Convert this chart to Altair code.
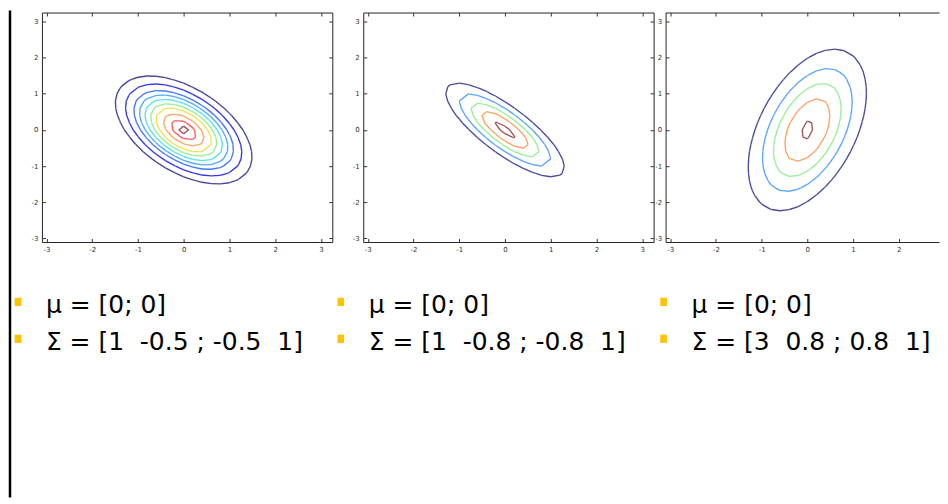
import numpy as np
import pandas as pd
import altair as alt

# ---- data ----
MEANS = [[0, 0], [0, 0], [0, 0]]
# covariance as drawn (horizontal variance, vertical variance)
COVS = [
    [[1.0, -0.5], [-0.5, 1.0]],
    [[1.0, -0.8], [-0.8, 1.0]],
    [[1.0, 0.8], [0.8, 3.0]],
]
# contour levels as a fraction of the peak density
LEVELS = [
    [0.329, 0.446, 0.552, 0.625, 0.697, 0.766, 0.830, 0.904, 0.959, 0.986],
    [0.430, 0.607, 0.752, 0.869, 0.972],
    [0.435, 0.618, 0.758, 0.882, 0.986],
]
COLORS = [
    ["#46469a", "#3535f0", "#4477ff", "#52aaff", "#55e2ec",
     "#95ee95", "#f2e24e", "#ffa664", "#ff5656", "#a04c4c"],
    ["#4a4a9a", "#5aa5ff", "#98ef98", "#ffa262", "#a05454"],
    ["#4a4a9a", "#5aa5ff", "#98ef98", "#ffa262", "#a05454"],
]
MU_LABELS = ["\u03bc = [0; 0]", "\u03bc = [0; 0]", "\u03bc = [0; 0]"]
SIGMA_LABELS = [
    "\u03a3 = [1\u00a0\u00a0-0.5 ; -0.5\u00a0\u00a01]",
    "\u03a3 = [1\u00a0\u00a0-0.8 ; -0.8\u00a0\u00a01]",
    "\u03a3 = [3\u00a0\u00a00.8 ; 0.8\u00a0\u00a01]",
]
TICKS = [-3, -2, -1, 0, 1, 2, 3]
DOMAIN = [-3.1, 3.25]
DOMAIN_CLIPPED = [-3.1, 2.88]   # third panel runs off the right edge of the slide
GRID_STEP = 0.2

W, H = 291, 230
W3 = 274


def contour_segments(mu, cov, levels):
    inv = np.linalg.inv(np.array(cov, dtype=float))

    def dens(x, y):
        dx, dy = x - mu[0], y - mu[1]
        q = inv[0, 0] * dx ** 2 + 2 * inv[0, 1] * dx * dy + inv[1, 1] * dy ** 2
        return np.exp(-0.5 * q)

    g = np.arange(-16, 17) * GRID_STEP
    X, Y = np.meshgrid(g, g)
    Z = dens(X, Y)
    rows = []
    n = len(g)
    for li, L in enumerate(levels):
        for i in range(n - 1):
            for j in range(n - 1):
                c = [(g[j], g[i], Z[i, j]), (g[j + 1], g[i], Z[i, j + 1]),
                     (g[j + 1], g[i + 1], Z[i + 1, j + 1]), (g[j], g[i + 1], Z[i + 1, j])]
                pts = {}
                for a in range(4):
                    x0, y0, z0 = c[a]
                    x1, y1, z1 = c[(a + 1) % 4]
                    if (z0 >= L) != (z1 >= L):
                        t = (L - z0) / (z1 - z0)
                        pts[a] = (x0 + t * (x1 - x0), y0 + t * (y1 - y0))
                pairs = []
                if len(pts) == 2:
                    e = sorted(pts)
                    pairs.append((e[0], e[1]))
                elif len(pts) == 4:
                    zc = dens((g[j] + g[j + 1]) / 2, (g[i] + g[i + 1]) / 2)
                    center_high = zc >= L
                    for a in range(4):
                        if (c[a][2] >= L) != center_high:
                            pairs.append(((a - 1) % 4, a))
                for ea, eb in pairs:
                    rows.append(dict(x=pts[ea][0], y=pts[ea][1],
                                     x2=pts[eb][0], y2=pts[eb][1], lvl=li))
    return pd.DataFrame(rows)


def make_axis(orient, labels):
    kw = dict(orient=orient, values=TICKS, title=None, domain=False, grid=False,
              offset=-3.5, tickSize=3.5, tickColor="#333333", tickWidth=1)
    if labels:
        kw.update(labels=True, labelFontSize=7, labelColor="#333333",
                  labelFont="DejaVu Sans", labelExpr="'' + datum.value",
                  labelPadding=3 if orient in ("bottom", "top") else 4)
    else:
        kw.update(labels=False)
    return alt.Axis(**kw)


def panel_layers(k, xdomain, right_axis=True):
    df = contour_segments(MEANS[k], COVS[k], LEVELS[k])
    sx = alt.Scale(domain=xdomain, nice=False, zero=False)
    sy = alt.Scale(domain=DOMAIN, nice=False, zero=False)
    base = alt.Chart(df)
    lines = base.mark_rule(strokeWidth=1.35).encode(
        x=alt.X("x:Q", scale=sx, axis=make_axis("bottom", True)),
        y=alt.Y("y:Q", scale=sy, axis=make_axis("left", True)),
        x2="x2:Q",
        y2="y2:Q",
        color=alt.Color("lvl:O", scale=alt.Scale(domain=list(range(len(LEVELS[k]))),
                                                 range=COLORS[k]), legend=None),
    )
    enc = dict(x=alt.X("x:Q", scale=sx, axis=make_axis("top", False)))
    if right_axis:
        enc["y"] = alt.Y("y:Q", scale=sy, axis=make_axis("right", False))
    else:
        enc["y"] = alt.Y("y:Q", scale=sy, axis=None)
    frame = base.mark_rule(opacity=0).encode(**enc)
    return [lines, frame]


# text block (bullets + labels) under the panels
txt = pd.DataFrame({
    "col": [0, 1, 2, 0, 1, 2],
    "row": [0, 0, 0, 1, 1, 1],
    "label": MU_LABELS + SIGMA_LABELS,
})
tx = alt.Scale(domain=[0, 2], range=[4, 651])
ty = alt.Scale(domain=[0, 1], range=[293, 330])
text_layer = alt.Chart(txt).mark_text(
    align="left", baseline="middle", fontSize=25, font="DejaVu Sans", color="#000000"
).encode(
    x=alt.X("col:Q", scale=tx, axis=None),
    y=alt.Y("row:Q", scale=ty, axis=None),
    text="label:N",
)
bullet_layer = alt.Chart(txt).mark_point(
    shape="M -0.8 -1 L 0.8 -1 L 0.8 1 L -0.8 1 Z", filled=True, size=69,
    color="#FFC400", opacity=1, xOffset=-28, yOffset=-3
).encode(
    x=alt.X("col:Q", scale=tx, axis=None),
    y=alt.Y("row:Q", scale=ty, axis=None),
)
edge_line = alt.Chart(pd.DataFrame({"a": [0]})).mark_rule(
    color="#000000", strokeWidth=2.5
).encode(x=alt.value(-32), y=alt.value(-2), y2=alt.value(486))

p1 = alt.layer(*panel_layers(0, DOMAIN), text_layer, bullet_layer, edge_line).resolve_scale(
    x="independent", y="independent").properties(width=W, height=H)
p2 = alt.layer(*panel_layers(1, DOMAIN)).resolve_scale(
    x="independent", y="independent").properties(width=W, height=H)
p3 = alt.layer(*panel_layers(2, DOMAIN_CLIPPED, right_axis=False)).resolve_scale(
    x="independent", y="independent").properties(
    width=W3, height=H,
    view=alt.ViewBackground(stroke="#262626", strokeWidth=1,
                            strokeDash=[W3, H, W3 + H]))

spacer = alt.Chart(pd.DataFrame({"a": [0]})).mark_point(opacity=0, size=1).encode(
    x=alt.value(0), y=alt.value(0)
).properties(width=7, height=H, view=alt.ViewBackground(strokeOpacity=0))

chart = alt.hconcat(p1, spacer, p2, p3, spacing=12, bounds="flush").resolve_scale(
    color="independent"
).properties(
    padding={"left": 0, "top": 0, "right": 0, "bottom": 0}
).configure_view(stroke="#262626", strokeWidth=1).configure_axis(grid=False)

chart.save("out.html", embed_options={"renderer": "svg", "actions": False})
